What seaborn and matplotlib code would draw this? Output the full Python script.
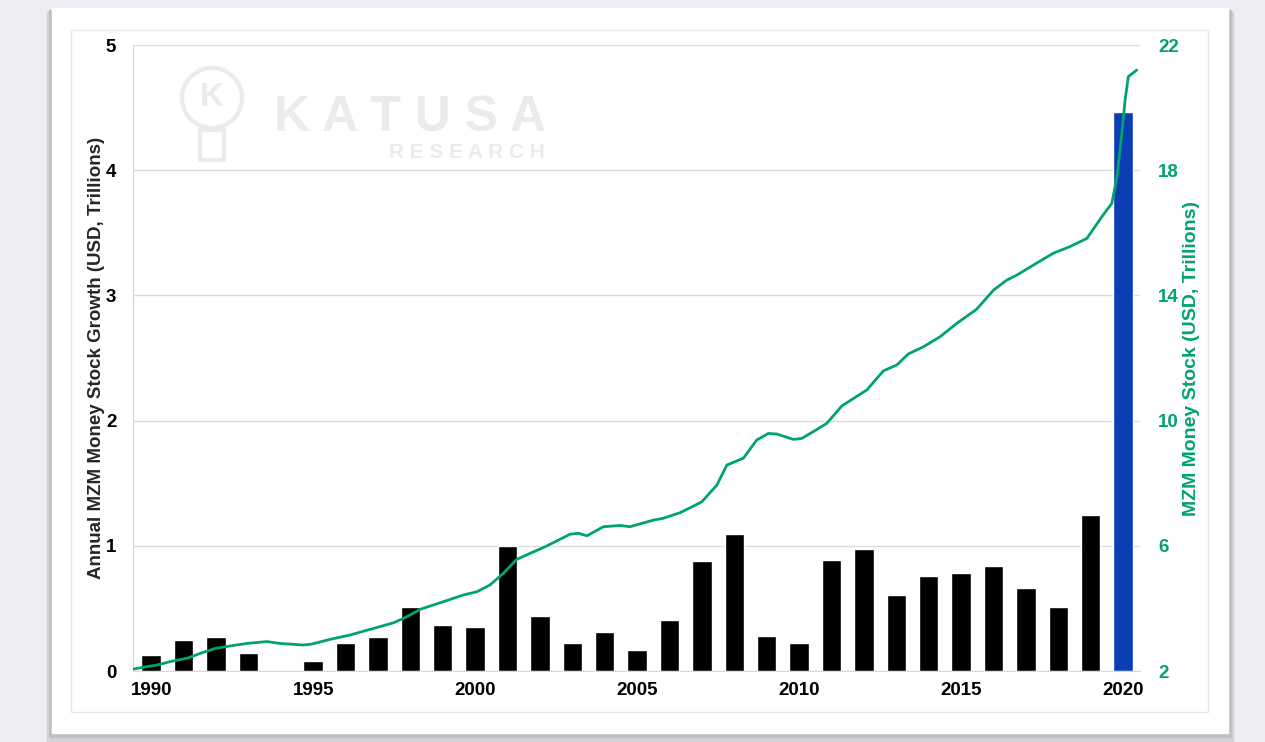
import numpy as np
import pandas as pd
import matplotlib
matplotlib.use("Agg")
import matplotlib.pyplot as plt
import seaborn as sns
from matplotlib.patches import Rectangle, Ellipse

# datos
years = list(range(1990, 2021))
growth = [0.125, 0.248, 0.275, 0.147, 0.0, 0.083, 0.221, 0.275, 0.512, 0.371,
          0.352, 0.997, 0.443, 0.227, 0.309, 0.165, 0.408, 0.875, 1.096, 0.277,
          0.227, 0.888, 0.971, 0.611, 0.760, 0.781, 0.837, 0.664, 0.509, 1.245,
          4.465]

mzm_time = [1989.45, 1989.76, 1990.18, 1990.59, 1991.15, 1991.56, 1991.98, 1992.44,
            1992.95, 1993.57, 1993.98, 1994.70, 1994.96, 1995.52, 1996.14, 1996.76,
            1997.48, 1997.89, 1998.30, 1998.92, 1999.64, 2000.05, 2000.46, 2000.87,
            2001.29, 2001.70, 2002.16, 2002.47, 2002.93, 2003.19, 2003.45, 2003.96,
            2004.48, 2004.78, 2005.50, 2005.81, 2006.33, 2006.74, 2007.00, 2007.46,
            2007.77, 2008.28, 2008.69, 2009.05, 2009.31, 2009.82, 2010.08, 2010.44,
            2010.85, 2011.32, 2011.68, 2012.09, 2012.60, 2013.02, 2013.37, 2013.84,
            2014.35, 2014.87, 2015.48, 2016.00, 2016.41, 2016.72, 2017.23, 2017.85,
            2018.36, 2018.88, 2019.34, 2019.65, 2019.81, 2019.96, 2020.06, 2020.16,
            2020.42]
mzm_stock = [2.06, 2.12, 2.19, 2.30, 2.42, 2.58, 2.72, 2.80,
             2.88, 2.94, 2.88, 2.83, 2.86, 3.01, 3.15, 3.33,
             3.54, 3.73, 3.97, 4.18, 4.43, 4.53, 4.75, 5.12,
             5.57, 5.76, 5.97, 6.13, 6.37, 6.40, 6.32, 6.61,
             6.65, 6.61, 6.82, 6.88, 7.06, 7.27, 7.41, 7.94,
             8.58, 8.80, 9.38, 9.59, 9.57, 9.40, 9.43, 9.65,
             9.91, 10.47, 10.71, 10.98, 11.59, 11.78, 12.13, 12.36,
             12.68, 13.11, 13.56, 14.17, 14.49, 14.65, 14.97, 15.35,
             15.56, 15.82, 16.51, 16.94, 17.79, 19.18, 20.24, 20.99,
             21.20]

left_ticks = [0, 1, 2, 3, 4, 5]
right_ticks = [2, 6, 10, 14, 18, 22]
x_ticks = [1990, 1995, 2000, 2005, 2010, 2015, 2020]

GREEN = "#00a46c"
BLUE = "#0b3db5"

sns.set_style("white")
plt.rcParams["font.family"] = ["Liberation Sans", "DejaVu Sans"]
plt.rcParams["font.weight"] = "bold"

W, H = 1265, 742
fig = plt.figure(figsize=(W / 100, H / 100), dpi=100, facecolor="#eceef3")

def fx(px):
    return px / W

def fy(py):
    return 1 - py / H

# tarjeta blanca con sombra (por debajo de los ejes)
fig.patches.append(Rectangle((fx(47), fy(742)), fx(1186), fy(12) - fy(742),
                             transform=fig.transFigure, color="#d3d4d8", zorder=-4))
fig.patches.append(Rectangle((fx(49), fy(737)), fx(1182), fy(10) - fy(737),
                             transform=fig.transFigure, color="#bfc0c4", zorder=-3))
fig.patches.append(Rectangle((fx(52), fy(733)), fx(1176), fy(8) - fy(733),
                             transform=fig.transFigure, color="white", zorder=-2))
fig.patches.append(Rectangle((fx(71), fy(712)), fx(1137), fy(30) - fy(712),
                             transform=fig.transFigure, facecolor="none",
                             edgecolor="#e6e6e6", lw=1, zorder=-1))

# marca de agua
wm = "#ebebeb"
fig.text(fx(410), fy(118), "K A T U S A", fontsize=36, color=wm, ha="center",
         va="center", fontweight="bold", zorder=-1)
fig.text(fx(467), fy(152), "R E S E A R C H", fontsize=15, color=wm, ha="center",
         va="center", zorder=-1)
fig.patches.append(Ellipse((fx(212), fy(98)), fx(60), fy(0) - fy(60),
                           transform=fig.transFigure, facecolor="none",
                           edgecolor=wm, lw=3, zorder=-1))
fig.patches.append(Rectangle((fx(200), fy(160)), fx(24), fy(130) - fy(160),
                             transform=fig.transFigure, facecolor="none",
                             edgecolor=wm, lw=3, zorder=-1))
fig.text(fx(212), fy(98), "K", fontsize=24, color=wm, ha="center", va="center",
         zorder=-1)

ax = fig.add_axes([fx(133), fy(671), fx(1140) - fx(133), fy(45) - fy(671)])
ax.set_facecolor("none")

df = pd.DataFrame({"year": years, "growth": growth})
df["kind"] = np.where(df["year"] == 2020, "2020", "other")
sns.barplot(data=df, x="year", y="growth", hue="kind", native_scale=True,
            palette={"other": "black", "2020": BLUE}, width=0.6,
            dodge=False, legend=False, saturation=1, ax=ax)

ax.set_xlim(1989.44, 2020.52)
ax.set_ylim(0, 5)
ax.set_yticks(left_ticks)
ax.set_xticks(x_ticks)
ax.set_xticklabels([str(t) for t in x_ticks])
ax.yaxis.grid(True, color="#dcdcdc", lw=1)
ax.set_axisbelow(True)
for s in ["top", "right"]:
    ax.spines[s].set_visible(False)
ax.spines["left"].set_color("#cfd8dc")
ax.spines["bottom"].set_color("#d9d9d9")
ax.tick_params(axis="both", length=0, labelsize=13.5, colors="black")
ax.tick_params(axis="y", pad=12)
ax.tick_params(axis="x", pad=8)
ax.set_xlabel("")
ax.set_ylabel("Annual MZM Money Stock Growth (USD, Trillions)", fontsize=13.5,
              fontweight="bold", labelpad=1)

ax2 = ax.twinx()
sns.lineplot(x=mzm_time, y=mzm_stock, color=GREEN, lw=2.0, sort=False, ax=ax2)
ax2.set_ylim(2, 22)
ax2.set_yticks(right_ticks)
for s in ["top", "right", "left", "bottom"]:
    ax2.spines[s].set_visible(False)
ax2.tick_params(axis="y", length=0, labelsize=13.5, colors=GREEN, pad=13)
ax2.set_ylabel("MZM Money Stock (USD, Trillions)", fontsize=14, fontweight="bold",
               color=GREEN, labelpad=3)

fig.savefig("out.png", dpi=100, facecolor=fig.get_facecolor())
